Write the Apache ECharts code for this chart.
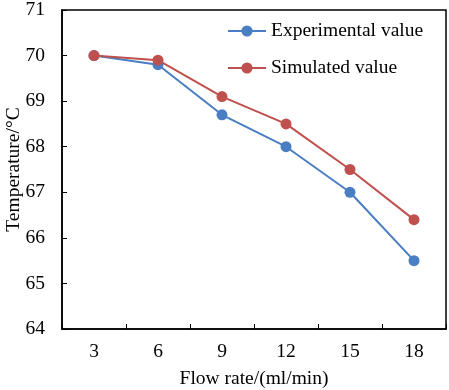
<!DOCTYPE html>
<html>
<head>
<meta charset="utf-8">
<script src="https://cdn.jsdelivr.net/npm/echarts@6/dist/echarts.min.js"></script>
<style>
html, body { margin: 0; padding: 0; background: #fff; }
#chart { width: 449px; height: 390px; }
</style>
</head>
<body>
<div id="chart"></div>
<script>
var flowRates = ['3', '6', '9', '12', '15', '18'];
var experimental = [70.0, 69.8, 68.7, 68.0, 67.0, 65.5];
var simulated = [70.0, 69.9, 69.1, 68.5, 67.5, 66.4];

var font = '"Liberation Serif", "Times New Roman", serif';
var myChart = echarts.init(document.getElementById('chart'));
var option = {
    animation: false,
    backgroundColor: '#fff',
    textStyle: { fontFamily: font },
    grid: { left: 62, right: 3, top: 10, bottom: 61, containLabel: false, outerBoundsMode: 'none' },
    legend: {
        orient: 'vertical',
        left: 222,
        top: 16,
        itemWidth: 38,
        itemHeight: 14,
        itemGap: 17,
        textStyle: { fontFamily: font, fontSize: 19.5, color: '#000' },
        data: ['Experimental value', 'Simulated value']
    },
    xAxis: {
        type: 'category',
        data: flowRates,
        boundaryGap: true,
        name: 'Flow rate/(ml/min)',
        nameLocation: 'middle',
        nameGap: 40,
        nameMoveOverlap: false,
        nameTextStyle: { fontFamily: font, fontSize: 19.5, color: '#000' },
        axisLine: { lineStyle: { color: '#000', width: 1.5 } },
        axisTick: { show: true, inside: true, length: 5, lineStyle: { color: '#000' } },
        axisLabel: { fontFamily: font, fontSize: 19.5, color: '#000', margin: 13 },
        splitLine: { show: false }
    },
    yAxis: {
        type: 'value',
        min: 64,
        max: 71,
        interval: 1,
        name: 'Temperature/°C',
        nameLocation: 'middle',
        nameGap: 38,
        nameMoveOverlap: false,
        nameTextStyle: { fontFamily: font, fontSize: 19.5, color: '#000' },
        axisLine: { show: true, lineStyle: { color: '#000', width: 1.5 } },
        axisTick: { show: true, inside: true, length: 5, lineStyle: { color: '#000' } },
        axisLabel: { fontFamily: font, fontSize: 19.5, color: '#000', margin: 17 },
        splitLine: { show: false }
    },
    series: [
        {
            name: 'Experimental value',
            type: 'line',
            data: experimental,
            symbol: 'circle',
            symbolSize: 11,
            itemStyle: { color: '#4A7EC2' },
            lineStyle: { color: '#4A7EC2', width: 2 }
        },
        {
            name: 'Simulated value',
            type: 'line',
            data: simulated,
            symbol: 'circle',
            symbolSize: 11,
            itemStyle: { color: '#C0504D' },
            lineStyle: { color: '#C0504D', width: 2 }
        }
    ],
    graphic: [{
        type: 'rect',
        shape: { x: 62, y: 10, width: 384, height: 319 },
        style: { fill: 'none', stroke: '#000', lineWidth: 1.5 },
        silent: true,
        z: -1
    }]
};
myChart.setOption(option);
</script>
</body>
</html>
